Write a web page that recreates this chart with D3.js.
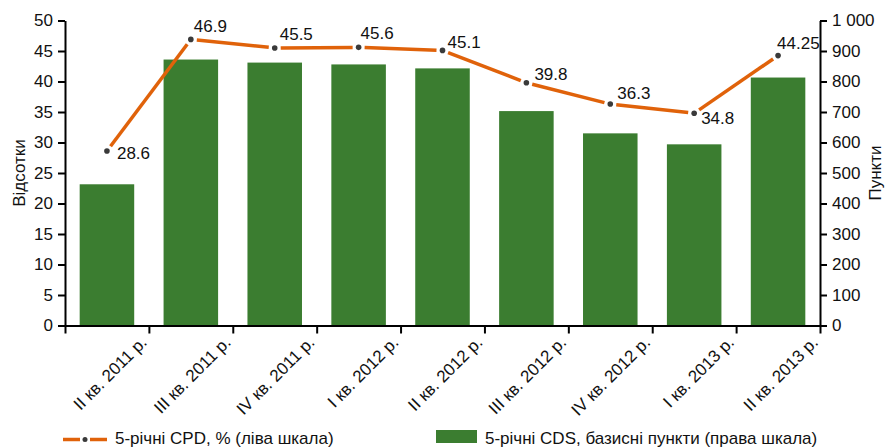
<!DOCTYPE html>
<html>
<head>
<meta charset="utf-8">
<script src="https://cdn.jsdelivr.net/npm/d3@7"></script>
<style>
  body { margin: 0; background: #fff; }
  svg text { font-family: 'Liberation Sans Narrow', 'Arial Narrow', 'Liberation Sans', sans-serif; fill: #111; }
  .ejes path, .ejes line { stroke: #000; stroke-width: 2; }
  .ejes text { font-size: 17px; }
</style>
</head>
<body>
<div id="graf"></div>
<script>
const quarters = ['II кв. 2011 р.', 'III кв. 2011 р.', 'IV кв. 2011 р.', 'I кв. 2012 р.', 'II кв. 2012 р.',
  'III кв. 2012 р.', 'IV кв. 2012 р.', 'I кв. 2013 р.', 'II кв. 2013 р.']
const cds = [463, 872, 862, 856, 843, 703, 630, 594, 813]
const cpd = [28.6, 46.9, 45.5, 45.6, 45.1, 39.8, 36.3, 34.8, 44.25]
const cpdLabels = ['28.6', '46.9', '45.5', '45.6', '45.1', '39.8', '36.3', '34.8', '44.25']
const leftTicks = [0, 5, 10, 15, 20, 25, 30, 35, 40, 45, 50]
const rightTicks = [0, 100, 200, 300, 400, 500, 600, 700, 800, 900, 1000]
// label offsets (dx, dy) relative to the point
const labelOff = [[10, 8], [3, -7], [5, -8], [2, -8], [5, -2], [8, -3], [7, -5], [7, 11], [-1, -7]]

const anchoTotal = 885
const altoTotal = 448
const margin = { top: 20.5, left: 65, right: 65, bottom: 122.5 }
const ancho = anchoTotal - margin.left - margin.right
const alto = altoTotal - margin.top - margin.bottom

const svg = d3.select('#graf').append('svg')
  .attr('width', anchoTotal)
  .attr('height', altoTotal)

const g = svg.append('g')
  .attr('transform', `translate(${margin.left}, ${margin.top})`)

const x = d3.scaleBand()
  .domain(quarters)
  .range([0, ancho])
  .paddingInner(0.35)
  .paddingOuter(0.175)

const yL = d3.scaleLinear().domain([0, 50]).range([alto, 0])
const yR = d3.scaleLinear().domain([0, 1000]).range([alto, 0])
const xEdge = d3.scaleLinear().domain([0, quarters.length]).range([0, ancho])

// barras
g.selectAll('rect.bar')
  .data(cds)
  .enter()
  .append('rect')
    .attr('class', 'bar')
    .attr('x', (d, i) => x(quarters[i]))
    .attr('y', d => yR(d))
    .attr('width', x.bandwidth())
    .attr('height', d => alto - yR(d))
    .attr('fill', '#3b7d30')

// ejes
g.append('g')
  .attr('class', 'ejes')
  .call(d3.axisLeft(yL).tickValues(leftTicks).tickSize(7).tickPadding(5).tickSizeOuter(0))

g.append('g')
  .attr('class', 'ejes')
  .attr('transform', `translate(${ancho}, 0)`)
  .call(d3.axisRight(yR).tickValues(rightTicks).tickSize(7).tickPadding(5).tickSizeOuter(0)
    .tickFormat(d => d === 1000 ? '1 000' : d))

g.append('g')
  .attr('class', 'ejes')
  .attr('transform', `translate(0, ${alto})`)
  .call(d3.axisBottom(xEdge).tickValues(d3.range(quarters.length + 1)).tickSize(8).tickSizeOuter(0).tickFormat(''))

g.selectAll('text.xlab')
  .data(quarters)
  .enter()
  .append('text')
    .attr('class', 'xlab')
    .attr('text-anchor', 'end')
    .attr('font-size', 17)
    .attr('transform', d => `translate(${x(d) + x.bandwidth() / 2 + 41}, ${alto + 18}) rotate(-45)`)
    .text(d => d)

// linea con huecos junto a los puntos
const pts = cpd.map((d, i) => [x(quarters[i]) + x.bandwidth() / 2, yL(d)])
const gap = 6
const segs = d3.pairs(pts).map(([a, b]) => {
  const dx = b[0] - a[0], dy = b[1] - a[1]
  const len = Math.hypot(dx, dy)
  const ux = dx / len, uy = dy / len
  return [[a[0] + ux * gap, a[1] + uy * gap], [b[0] - ux * gap, b[1] - uy * gap]]
})

g.selectAll('line.seg')
  .data(segs)
  .enter()
  .append('line')
    .attr('class', 'seg')
    .attr('x1', d => d[0][0])
    .attr('y1', d => d[0][1])
    .attr('x2', d => d[1][0])
    .attr('y2', d => d[1][1])
    .attr('stroke', '#e0620a')
    .attr('stroke-width', 3.5)

g.selectAll('circle.pt')
  .data(pts)
  .enter()
  .append('circle')
    .attr('class', 'pt')
    .attr('cx', d => d[0])
    .attr('cy', d => d[1])
    .attr('r', 2.8)
    .attr('fill', '#3a3a3a')

g.selectAll('text.lbl')
  .data(cpdLabels)
  .enter()
  .append('text')
    .attr('class', 'lbl')
    .attr('font-size', 17)
    .attr('x', (d, i) => pts[i][0] + labelOff[i][0])
    .attr('y', (d, i) => pts[i][1] + labelOff[i][1])
    .text(d => d)

// titulos de ejes
svg.append('text')
  .attr('text-anchor', 'middle')
  .attr('font-size', 17)
  .attr('transform', `translate(25, 173) rotate(-90)`)
  .text('Відсотки')

svg.append('text')
  .attr('text-anchor', 'middle')
  .attr('font-size', 17)
  .attr('transform', `translate(881, 173) rotate(-90)`)
  .text('Пункти')

// leyenda
const ley = svg.append('g')
ley.append('line').attr('x1', 63).attr('x2', 80).attr('y1', 439.5).attr('y2', 439.5)
  .attr('stroke', '#e0620a').attr('stroke-width', 3.5)
ley.append('line').attr('x1', 90).attr('x2', 107).attr('y1', 439.5).attr('y2', 439.5)
  .attr('stroke', '#e0620a').attr('stroke-width', 3.5)
ley.append('circle').attr('cx', 85).attr('cy', 439.5).attr('r', 2.5).attr('fill', '#3a3a3a')
ley.append('text').attr('x', 115).attr('y', 444).attr('font-size', 17)
  .text('5-річні CPD, % (ліва шкала)')

ley.append('rect').attr('x', 436).attr('y', 430).attr('width', 41).attr('height', 13)
  .attr('fill', '#3b7d30')
ley.append('text').attr('x', 485).attr('y', 444).attr('font-size', 17)
  .text('5-річні CDS, базисні пункти (права шкала)')
</script>
</body>
</html>
